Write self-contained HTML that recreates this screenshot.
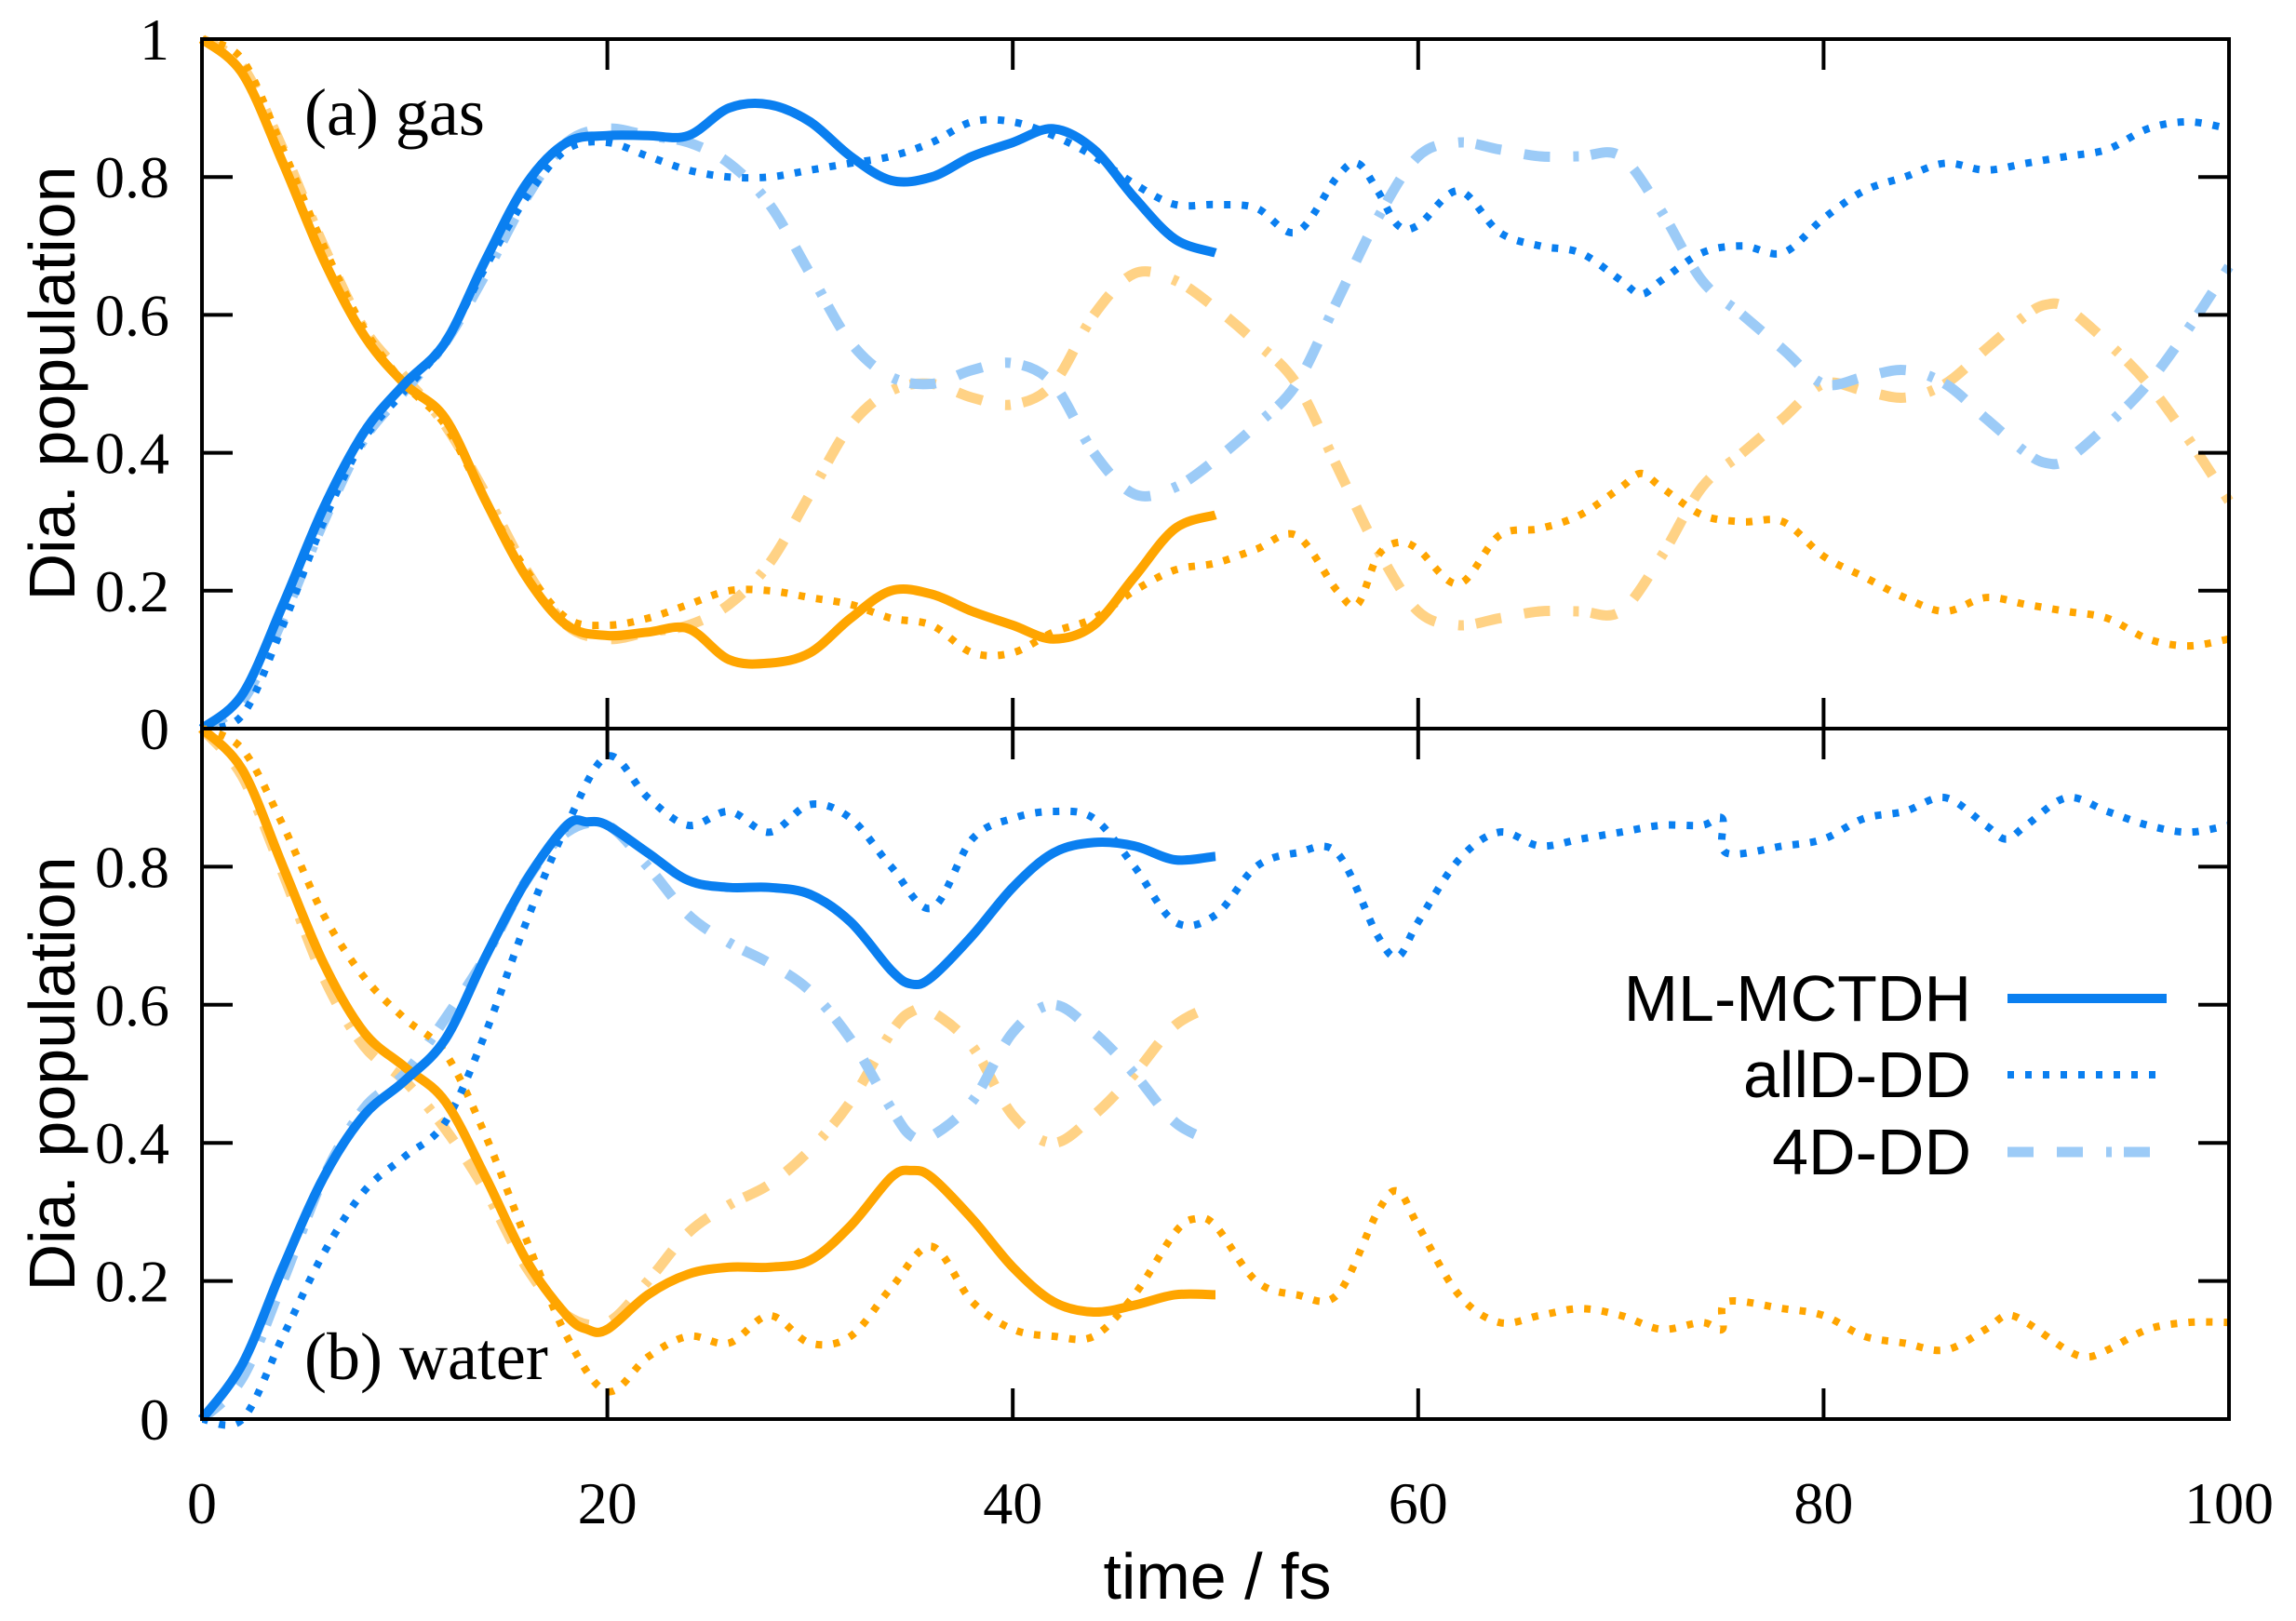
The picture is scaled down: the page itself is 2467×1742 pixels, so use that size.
<!DOCTYPE html>
<html><head><meta charset="utf-8"><style>
html,body{margin:0;padding:0;background:#fff;}
svg{display:block;}
.tk{font-family:"Liberation Serif",serif;font-size:64px;fill:#000;}
.lb{font-family:"Liberation Sans",sans-serif;font-size:70px;fill:#000;}
.ann{font-family:"Liberation Serif",serif;font-size:72px;fill:#000;}
</style></head><body>
<svg id="s" width="2467" height="1742" viewBox="0 0 2467 1742" xmlns="http://www.w3.org/2000/svg">
<g id="curves"></g>
<g id="axes" stroke="#000" stroke-width="4" fill="none">
<rect x="217" y="42" width="2178" height="1483"/>
<line x1="217" y1="783" x2="2395" y2="783"/>
</g>
<g id="ticks" stroke="#000" stroke-width="4"></g>
<g id="labels"></g>
<text class="ann" x="327" y="145">(a) gas</text>
<text class="ann" x="327" y="1482">(b) water</text>
<text class="lb" x="1308" y="1718" text-anchor="middle">time / fs</text>
<text class="lb" transform="translate(80,412) rotate(-90)" text-anchor="middle">Dia. population</text>
<text class="lb" transform="translate(80,1154) rotate(-90)" text-anchor="middle">Dia. population</text>
<text class="lb" x="2118" y="1097" text-anchor="end">ML-MCTDH</text>
<text class="lb" x="2118" y="1179" text-anchor="end">allD-DD</text>
<text class="lb" x="2118" y="1262" text-anchor="end">4D-DD</text>
<line x1="2157" y1="1073" x2="2328" y2="1073" stroke="#0a7ff0" stroke-width="10"/>
<line x1="2157" y1="1155" x2="2328" y2="1155" stroke="#0a7ff0" stroke-width="8" stroke-dasharray="7 12"/>
<line x1="2157" y1="1238" x2="2328" y2="1238" stroke="#9ccbf7" stroke-width="11" stroke-dasharray="28 25 28 25 6 13"/>
</svg>
<script>
var X=function(t){return 217+t*21.78;};
var top0=783,top1=42,bot0=1525,bot1=783;
function P(arr,z0,z1){var p=[];for(var i=0;i<arr.length;i+=2){p.push([X(arr[i]),z0+(z1-z0)*arr[i+1]]);}
 var d="M"+p[0][0].toFixed(1)+","+p[0][1].toFixed(1);
 for(var i=0;i<p.length-1;i++){var p0=p[Math.max(i-1,0)],p1=p[i],p2=p[i+1],p3=p[Math.min(i+2,p.length-1)];
  var c1x=p1[0]+(p2[0]-p0[0])/6,c1y=p1[1]+(p2[1]-p0[1])/6,c2x=p2[0]-(p3[0]-p1[0])/6,c2y=p2[1]-(p3[1]-p1[1])/6;
  d+="C"+c1x.toFixed(1)+","+c1y.toFixed(1)+" "+c2x.toFixed(1)+","+c2y.toFixed(1)+" "+p2[0].toFixed(1)+","+p2[1].toFixed(1);}
 return d;}
var B="#0a7ff0",O="#ffa500",LB="#9ccbf7",LO="#ffd285";
var DOT="7 12",DD="28 25 28 25 6 13";
var series=[
[0,[0,1,2,0.96,4,0.84,6,0.7,8,0.58,10,0.51,12,0.44,14,0.34,16,0.23,18,0.15,20,0.13,22,0.14,24,0.15,26,0.18,28,0.24,30,0.34,32,0.44,34,0.49,36,0.5,38,0.48,40,0.47,42,0.5,44,0.6,46,0.66,48,0.65,50,0.61,52,0.56,54,0.5,56,0.38,58,0.26,60,0.17,62,0.15,64,0.16,66,0.17,68,0.17,70,0.17,72,0.25,74,0.35,76,0.4,78,0.45,80,0.5,82,0.49,84,0.48,86,0.5,88,0.55,90,0.6,91,0.615,92,0.61,94,0.56,96,0.5,98,0.42,100,0.33],LO,11,DD],
[0,[0,0,2,0.04,4,0.16,6,0.3,8,0.42,10,0.49,12,0.56,14,0.66,16,0.77,18,0.85,20,0.87,22,0.86,24,0.85,26,0.82,28,0.76,30,0.66,32,0.56,34,0.51,36,0.5,38,0.52,40,0.53,42,0.5,44,0.4,46,0.34,48,0.35,50,0.39,52,0.44,54,0.5,56,0.62,58,0.74,60,0.83,62,0.85,64,0.84,66,0.83,68,0.83,70,0.83,72,0.75,74,0.65,76,0.6,78,0.55,80,0.5,82,0.51,84,0.52,86,0.5,88,0.45,90,0.4,91,0.385,92,0.39,94,0.44,96,0.5,98,0.58,100,0.67],LB,11,DD],
[0,[0,1,2,0.97,4,0.84,6,0.7,8,0.58,10,0.5,12,0.44,14,0.33,16,0.23,18,0.16,20,0.15,22,0.16,24,0.18,26,0.2,28,0.2,30,0.19,32,0.18,34,0.16,36,0.15,38,0.11,40,0.11,42,0.14,44,0.16,46,0.2,48,0.23,50,0.24,52,0.26,54,0.28,56,0.2,57,0.18,58,0.25,59,0.27,60,0.26,62,0.21,64,0.28,66,0.29,68,0.31,70,0.35,71,0.37,72,0.35,74,0.31,76,0.3,78,0.3,80,0.25,82,0.22,84,0.19,86,0.17,88,0.19,90,0.18,92,0.17,94,0.16,96,0.13,98,0.12,100,0.13],O,8,DOT],
[0,[0,0,2,0.02,4,0.15,6,0.3,8,0.42,10,0.49,12,0.56,14,0.67,16,0.77,18,0.84,20,0.85,22,0.83,24,0.81,26,0.8,28,0.8,30,0.81,32,0.82,34,0.83,36,0.85,38,0.88,40,0.88,42,0.86,44,0.83,46,0.79,48,0.76,50,0.76,52,0.755,54,0.72,56,0.8,57,0.82,58,0.78,59,0.73,60,0.73,62,0.78,64,0.72,66,0.7,68,0.69,70,0.65,71,0.63,72,0.65,74,0.69,76,0.7,78,0.69,80,0.74,82,0.78,84,0.8,86,0.82,88,0.81,90,0.82,92,0.83,94,0.84,96,0.87,98,0.88,100,0.87],B,8,DOT],
[0,[0,1,2,0.95,4,0.82,6,0.68,8,0.57,10,0.5,12,0.45,14,0.33,16,0.22,18,0.15,20,0.135,22,0.14,24,0.145,26,0.1,28,0.095,30,0.11,32,0.16,34,0.2,36,0.195,38,0.17,40,0.15,42,0.13,44,0.15,46,0.22,48,0.29,50,0.31],O,10,null],
[0,[0,0,2,0.05,4,0.18,6,0.32,8,0.43,10,0.5,12,0.56,14,0.68,16,0.79,18,0.85,20,0.86,22,0.86,24,0.86,26,0.9,28,0.905,30,0.88,32,0.83,34,0.795,36,0.8,38,0.83,40,0.85,42,0.87,44,0.84,46,0.77,48,0.71,50,0.69],B,10,null],
[1,[0,1,2,0.93,4,0.79,6,0.64,8,0.54,10,0.49,12,0.42,14,0.33,16,0.22,18,0.15,20,0.14,22,0.2,24,0.27,26,0.31,28,0.34,30,0.39,32,0.46,34,0.56,35,0.59,36,0.59,38,0.54,40,0.44,42,0.4,44,0.44,46,0.5,48,0.57,50,0.6],LO,11,DD],
[1,[0,0,2,0.06,4,0.2,6,0.35,8,0.45,10,0.5,12,0.58,14,0.67,16,0.78,18,0.85,20,0.86,22,0.8,24,0.73,26,0.69,28,0.66,30,0.62,32,0.55,34,0.45,35,0.41,36,0.41,38,0.46,40,0.56,42,0.6,44,0.56,46,0.5,48,0.43,50,0.4],LB,11,DD],
[1,[0,1,2,0.97,4,0.86,6,0.73,8,0.64,10,0.58,12,0.53,14,0.41,16,0.26,18,0.12,20,0.04,22,0.09,24,0.12,26,0.11,28,0.15,30,0.11,32,0.12,34,0.19,36,0.25,38,0.17,40,0.13,42,0.12,44,0.12,46,0.18,48,0.27,49,0.29,50,0.28,52,0.2,54,0.18,56,0.18,58,0.3,59,0.33,60,0.28,62,0.18,64,0.14,66,0.15,68,0.16,70,0.15,72,0.13,74,0.14,75,0.13,75.2,0.17,78,0.16,80,0.15,82,0.12,84,0.11,86,0.1,88,0.13,89,0.15,90,0.14,92,0.1,93,0.09,94,0.1,96,0.13,98,0.14,100,0.14],O,8,DOT],
[1,[0,0,2,0.0,4,0.12,6,0.24,8,0.33,10,0.38,12,0.43,14,0.56,16,0.72,18,0.86,20,0.96,22,0.9,24,0.86,26,0.88,28,0.85,30,0.89,32,0.87,34,0.8,36,0.74,38,0.84,40,0.87,42,0.88,44,0.87,46,0.8,48,0.72,50,0.73,52,0.8,54,0.82,56,0.82,58,0.7,59,0.67,60,0.72,62,0.81,64,0.85,66,0.83,68,0.84,70,0.85,72,0.86,74,0.86,75,0.87,75.2,0.82,78,0.83,80,0.84,82,0.87,84,0.88,86,0.9,88,0.86,89,0.84,90,0.86,92,0.9,94,0.88,96,0.86,98,0.85,100,0.86],B,8,DOT],
[1,[0,1,2,0.94,4,0.8,6,0.66,8,0.56,10,0.51,12,0.46,14,0.35,16,0.23,18,0.15,19,0.13,20,0.13,22,0.18,24,0.21,26,0.22,28,0.22,30,0.23,32,0.28,34,0.35,35,0.36,36,0.35,38,0.29,40,0.22,42,0.17,44,0.155,46,0.165,48,0.18,50,0.18],O,10,null],
[1,[0,0,2,0.08,4,0.22,6,0.35,8,0.44,10,0.49,12,0.55,14,0.67,16,0.78,18,0.86,19,0.865,20,0.86,22,0.82,24,0.78,26,0.77,28,0.77,30,0.76,32,0.72,34,0.65,35,0.63,36,0.64,38,0.7,40,0.77,42,0.82,44,0.835,46,0.83,48,0.81,50,0.815],B,10,null]
];
var NS="http://www.w3.org/2000/svg";
var g=document.getElementById("curves");
series.forEach(function(s){
 var pl=document.createElementNS(NS,"path");
 pl.setAttribute("d",s[0]===0?P(s[1],top0,top1):P(s[1],bot0,bot1));
 pl.setAttribute("fill","none");pl.setAttribute("stroke",s[2]);
 pl.setAttribute("stroke-width",s[3]);pl.setAttribute("stroke-linejoin","round");
 if(s[4])pl.setAttribute("stroke-dasharray",s[4]);
 g.appendChild(pl);
});
var tk=document.getElementById("ticks"),lb=document.getElementById("labels");
function ln(a,b,c,d){var l=document.createElementNS(NS,"line");l.setAttribute("x1",a);l.setAttribute("y1",b);l.setAttribute("x2",c);l.setAttribute("y2",d);tk.appendChild(l);}
function tx(x,y,s,anc){var t=document.createElementNS(NS,"text");t.setAttribute("x",x);t.setAttribute("y",y);t.setAttribute("class","tk");t.setAttribute("text-anchor",anc);t.textContent=s;lb.appendChild(t);}
[0.2,0.4,0.6,0.8].forEach(function(v){
 var y1=top0+(top1-top0)*v,y2=bot0+(bot1-bot0)*v;
 ln(217,y1,250,y1);ln(2395,y1,2362,y1);ln(217,y2,250,y2);ln(2395,y2,2362,y2);
 tx(182,y1+22,v.toFixed(1),"end");tx(182,y2+22,v.toFixed(1),"end");
});
tx(182,64,"1","end");tx(182,805,"0","end");tx(182,1547,"0","end");
[20,40,60,80].forEach(function(t){var x=X(t);
 ln(x,42,x,75);ln(x,783,x,750);ln(x,783,x,816);ln(x,1525,x,1492);});
[0,20,40,60,80,100].forEach(function(t){tx(X(t),1637,String(t),"middle");});
</script>
</body></html>
